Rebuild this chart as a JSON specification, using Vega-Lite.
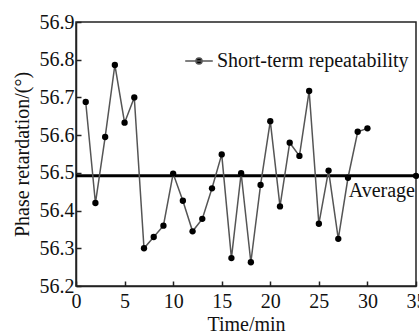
{
  "$schema": "https://vega.github.io/schema/vega-lite/v6.json",
  "width": 340,
  "height": 264,
  "autosize": "none",
  "padding": {"left": 76, "top": 22, "right": 3, "bottom": 50},
  "background": "white",
  "config": {
    "font": "Liberation Serif",
    "view": {"stroke": "#222", "strokeWidth": 1.5},
    "axis": {
      "domainColor": "#222", "domainWidth": 1.5, "tickColor": "#222", "tickWidth": 1.5,
      "labelFont": "Liberation Serif", "labelFontSize": 20, "labelColor": "#111",
      "titleFont": "Liberation Serif", "titleFontSize": 20, "titleFontWeight": "normal", "titleColor": "#111",
      "grid": false
    },
    "legend": {"labelFont": "Liberation Serif"},
    "text": {"font": "Liberation Serif"}
  },
  "datasets": {
    "meas": [
      {"t": 1, "v": 56.688, "s": "Short-term repeatability"},
      {"t": 2, "v": 56.420, "s": "Short-term repeatability"},
      {"t": 3, "v": 56.595, "s": "Short-term repeatability"},
      {"t": 4, "v": 56.786, "s": "Short-term repeatability"},
      {"t": 5, "v": 56.633, "s": "Short-term repeatability"},
      {"t": 6, "v": 56.700, "s": "Short-term repeatability"},
      {"t": 7, "v": 56.300, "s": "Short-term repeatability"},
      {"t": 8, "v": 56.330, "s": "Short-term repeatability"},
      {"t": 9, "v": 56.360, "s": "Short-term repeatability"},
      {"t": 10, "v": 56.498, "s": "Short-term repeatability"},
      {"t": 11, "v": 56.426, "s": "Short-term repeatability"},
      {"t": 12, "v": 56.345, "s": "Short-term repeatability"},
      {"t": 13, "v": 56.378, "s": "Short-term repeatability"},
      {"t": 14, "v": 56.459, "s": "Short-term repeatability"},
      {"t": 15, "v": 56.549, "s": "Short-term repeatability"},
      {"t": 16, "v": 56.274, "s": "Short-term repeatability"},
      {"t": 17, "v": 56.499, "s": "Short-term repeatability"},
      {"t": 18, "v": 56.263, "s": "Short-term repeatability"},
      {"t": 19, "v": 56.468, "s": "Short-term repeatability"},
      {"t": 20, "v": 56.637, "s": "Short-term repeatability"},
      {"t": 21, "v": 56.411, "s": "Short-term repeatability"},
      {"t": 22, "v": 56.580, "s": "Short-term repeatability"},
      {"t": 23, "v": 56.545, "s": "Short-term repeatability"},
      {"t": 24, "v": 56.717, "s": "Short-term repeatability"},
      {"t": 25, "v": 56.365, "s": "Short-term repeatability"},
      {"t": 26, "v": 56.506, "s": "Short-term repeatability"},
      {"t": 27, "v": 56.325, "s": "Short-term repeatability"},
      {"t": 28, "v": 56.487, "s": "Short-term repeatability"},
      {"t": 29, "v": 56.609, "s": "Short-term repeatability"},
      {"t": 30, "v": 56.618, "s": "Short-term repeatability"}
    ],
    "avg": [
      {"t": 0, "v": 56.492, "label": ""},
      {"t": 35, "v": 56.492, "label": "Average"}
    ]
  },
  "encoding": {
    "x": {
      "field": "t", "type": "quantitative",
      "scale": {"domain": [0, 35], "nice": false, "zero": false},
      "axis": {"title": "Time/min", "values": [0, 5, 10, 15, 20, 25, 30, 35], "tickSize": -5, "labelPadding": 10, "titlePadding": 3, "labelFlush": false}
    },
    "y": {
      "field": "v", "type": "quantitative",
      "scale": {"domain": [56.2, 56.9], "nice": false, "zero": false},
      "axis": {"title": "Phase retardation/(°)", "values": [56.2, 56.3, 56.4, 56.5, 56.6, 56.7, 56.8, 56.9], "format": ".1f", "tickSize": -5, "labelPadding": 7, "titlePadding": 7, "labelFlush": false}
    }
  },
  "layer": [
    {
      "data": {"name": "avg"},
      "mark": {"type": "line", "color": "#000", "strokeWidth": 3},
      "encoding": {}
    },
    {
      "data": {"name": "avg"},
      "transform": [{"filter": "datum.t == 35"}],
      "mark": {"type": "point", "filled": true, "color": "#000", "size": 40, "opacity": 1},
      "encoding": {}
    },
    {
      "data": {"name": "avg"},
      "transform": [{"filter": "datum.t == 35"}],
      "mark": {"type": "text", "align": "right", "baseline": "top", "dy": 5, "dx": -1, "fontSize": 20, "font": "Liberation Serif", "color": "#111"},
      "encoding": {"text": {"field": "label"}}
    },
    {
      "data": {"name": "meas"},
      "mark": {"type": "line", "strokeWidth": 1.5},
      "encoding": {
        "color": {
          "field": "s", "type": "nominal",
          "scale": {"range": ["#555"]},
          "legend": {
            "title": null, "orient": "none", "legendX": 108, "legendY": 24,
            "symbolType": "M-1,0H1M-0.22,0A0.22,0.22 0 1,1 0.22,0A0.22,0.22 0 1,1 -0.22,0Z",
            "symbolSize": 760, "symbolStrokeWidth": 1.5, "symbolStrokeColor": "#222", "symbolFillColor": "#000",
            "symbolOpacity": 1,
            "labelFont": "Liberation Serif", "labelFontSize": 20, "labelColor": "#111", "labelOffset": 3, "labelLimit": 300
          }
        }
      }
    },
    {
      "data": {"name": "meas"},
      "mark": {"type": "point", "filled": true, "color": "#000", "size": 40, "opacity": 1},
      "encoding": {}
    }
  ]
}
